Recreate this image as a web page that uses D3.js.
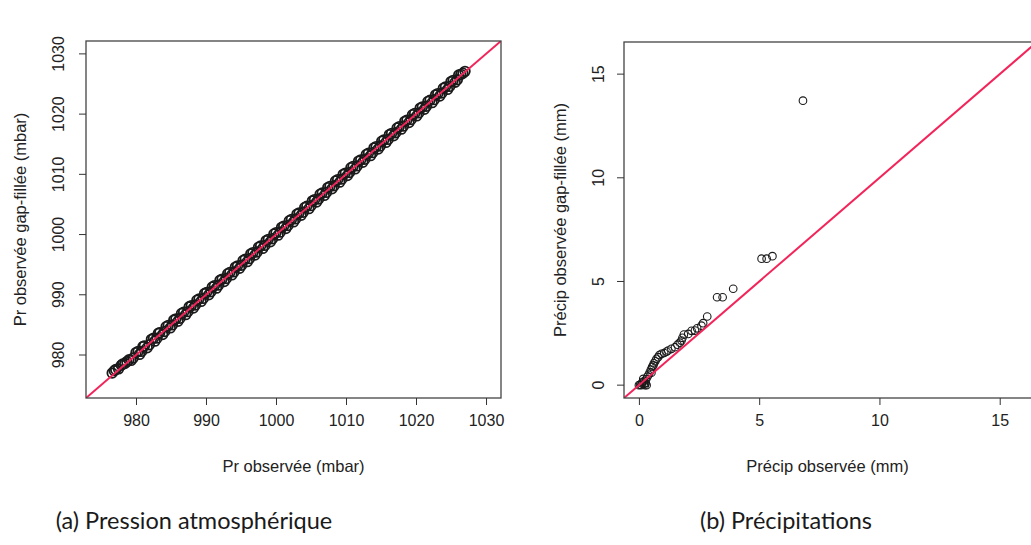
<!DOCTYPE html>
<html>
<head>
<meta charset="utf-8">
<script src="https://cdn.jsdelivr.net/npm/d3@7"></script>
<style>
  html, body { margin: 0; padding: 0; background: #fff; }
  svg text { font-family: "Liberation Sans", Arial, sans-serif; fill: #222; }
  svg text.caption { font-family: Lato, "Open Sans", sans-serif; font-weight: 400; fill: #1a1a1a; }
</style>
</head>
<body>
<svg id="chart" width="1031" height="545"></svg>
<script>
// ---------- DATA ----------
const pressureTicks = [980, 990, 1000, 1010, 1020, 1030];
const pressureObs = [
  976.6, 977.1, 977.9, 978.4, 979.0, 979.6, 980.3, 980.8, 981.2, 981.9, 982.5, 983.0, 983.4, 984.1, 984.6, 985.2, 985.7, 986.3, 986.8, 987.4, 987.9, 988.5, 989.0, 989.6, 990.1, 990.7, 991.2, 991.8, 992.3, 992.9, 993.4, 994.0, 994.5, 995.1, 995.6, 996.2, 996.7, 997.3, 997.8, 998.4, 998.9, 999.5, 1000.0, 1000.6, 1001.1, 1001.7, 1002.2, 1002.8, 1003.3, 1003.9, 1004.4, 1005.0, 1005.5, 1006.1, 1006.6, 1007.2, 1007.7, 1008.3, 1008.8, 1009.4, 1009.9, 1010.5, 1011.0, 1011.6, 1012.1, 1012.7, 1013.2, 1013.8, 1014.3, 1014.9, 1015.4, 1016.0, 1016.5, 1017.1, 1017.6, 1018.2, 1018.7, 1019.3, 1019.8, 1020.4, 1020.9, 1021.5, 1022.0, 1022.6, 1023.1, 1023.7, 1024.2, 1024.8, 1025.3, 1025.9, 1026.4, 1027.0,
  976.9, 977.5, 978.1, 978.7, 979.3, 980.0, 980.5, 981.0, 981.6, 982.2, 982.7, 983.2, 983.8, 984.3, 984.9, 985.4, 986.0, 986.5, 987.1, 987.6, 988.2, 988.7, 989.3, 989.8, 990.4, 990.9, 991.5, 992.0, 992.6, 993.1, 993.7, 994.2, 994.8, 995.3, 995.9, 996.4, 997.0, 997.5, 998.1, 998.6, 999.2, 999.7, 1000.3, 1000.8, 1001.4, 1001.9, 1002.5, 1003.0, 1003.6, 1004.1, 1004.7, 1005.2, 1005.8, 1006.3, 1006.9, 1007.4, 1008.0, 1008.5, 1009.1, 1009.6, 1010.2, 1010.7, 1011.3, 1011.8, 1012.4, 1012.9, 1013.5, 1014.0, 1014.6, 1015.1, 1015.7, 1016.2, 1016.8, 1017.3, 1017.9, 1018.4, 1019.0, 1019.5, 1020.1, 1020.6, 1021.2, 1021.7, 1022.3, 1022.8, 1023.4, 1023.9, 1024.5, 1025.0, 1025.6, 1026.1, 1026.7];
const pressureFill = [
  977.0, 977.6, 978.3, 978.6, 979.2, 979.5, 980.6, 980.6, 981.5, 981.7, 982.8, 982.8, 983.7, 983.9, 984.9, 985.0, 986.0, 986.1, 987.1, 987.2, 988.2, 988.3, 989.3, 989.4, 990.4, 990.5, 991.5, 991.6, 992.6, 992.7, 993.7, 993.8, 994.8, 994.9, 995.9, 996.0, 997.0, 997.1, 998.1, 998.2, 999.2, 999.3, 1000.3, 1000.4, 1001.4, 1001.5, 1002.5, 1002.6, 1003.6, 1003.7, 1004.7, 1004.8, 1005.8, 1005.9, 1006.9, 1007.0, 1008.0, 1008.1, 1009.1, 1009.2, 1010.2, 1010.3, 1011.3, 1011.4, 1012.4, 1012.5, 1013.5, 1013.6, 1014.6, 1014.7, 1015.7, 1015.8, 1016.8, 1016.9, 1017.9, 1018.0, 1019.0, 1019.1, 1020.1, 1020.2, 1021.2, 1021.3, 1022.3, 1022.4, 1023.4, 1023.5, 1024.5, 1024.6, 1025.6, 1025.7, 1026.6, 1027.1,
  977.4, 977.7, 978.5, 978.9, 979.1, 980.4, 980.1, 981.4, 981.2, 982.6, 982.3, 983.6, 983.4, 984.7, 984.5, 985.8, 985.6, 986.9, 986.7, 988.0, 987.8, 989.1, 988.9, 990.2, 990.0, 991.3, 991.1, 992.4, 992.2, 993.5, 993.3, 994.6, 994.4, 995.7, 995.5, 996.8, 996.6, 997.9, 997.7, 999.0, 998.8, 1000.1, 999.9, 1001.2, 1001.0, 1002.3, 1002.1, 1003.4, 1003.2, 1004.5, 1004.3, 1005.6, 1005.4, 1006.7, 1006.5, 1007.8, 1007.6, 1008.9, 1008.7, 1010.0, 1009.8, 1011.1, 1010.9, 1012.2, 1012.0, 1013.3, 1013.1, 1014.4, 1014.2, 1015.5, 1015.3, 1016.6, 1016.4, 1017.7, 1017.5, 1018.8, 1018.6, 1019.9, 1019.7, 1021.0, 1020.8, 1022.1, 1021.9, 1023.2, 1023.0, 1024.3, 1024.1, 1025.4, 1025.3, 1026.5, 1026.8];

const precipTicks = [0, 5, 10, 15];
const precipObs  = [0.00, 0.05, 0.10, 0.12, 0.15, 0.20, 0.22, 0.25, 0.28, 0.30, 0.32, 0.35, 0.18, 0.40, 0.45, 0.50, 0.52, 0.55, 0.60, 0.62, 0.68, 0.73, 0.80, 0.85, 0.94, 1.05, 1.15, 1.22, 1.35, 1.50, 1.60, 1.70, 1.77, 1.81, 1.87, 2.05, 2.19, 2.33, 2.42, 2.60, 2.67, 2.84, 3.25, 3.48, 3.92, 5.10, 5.31, 5.55, 6.82];
const precipFill = [0.00, 0.02, 0.00, 0.08, 0.15, 0.05, 0.20, 0.00, 0.10, 0.28, 0.00, 0.40, 0.30, 0.50, 0.62, 0.75, 0.60, 0.88, 0.95, 1.05, 1.15, 1.27, 1.35, 1.45, 1.51, 1.55, 1.62, 1.67, 1.75, 1.83, 1.95, 2.05, 2.15, 2.28, 2.44, 2.47, 2.62, 2.63, 2.74, 2.87, 2.99, 3.31, 4.24, 4.24, 4.65, 6.10, 6.10, 6.22, 13.72];

const captions = ["(a) Pression atmosphérique", "(b) Précipitations"];

// ---------- DRAW ----------
const svg = d3.select("#chart");

function panel(cfg) {
  const g = svg.append("g");
  const x = d3.scaleLinear().domain(cfg.domain).range([cfg.left, cfg.right]);
  const y = d3.scaleLinear().domain(cfg.domain).range([cfg.bottom, cfg.top]);
  const fmt = d3.format("d");

  const clipId = "clip" + cfg.id;
  svg.append("clipPath").attr("id", clipId).append("rect")
    .attr("x", cfg.left).attr("y", cfg.top)
    .attr("width", cfg.right - cfg.left).attr("height", cfg.bottom - cfg.top);

  // points
  const pts = cfg.obs.map((d, i) => [d, cfg.fill[i]]);
  g.append("g").attr("clip-path", `url(#${clipId})`)
    .selectAll("circle").data(pts).enter().append("circle")
    .attr("cx", d => x(d[0])).attr("cy", d => y(d[1])).attr("r", cfg.r)
    .attr("fill", "none").attr("stroke", "#1a1a1a").attr("stroke-width", cfg.sw);

  // y = x line
  g.append("line").attr("clip-path", `url(#${clipId})`)
    .attr("x1", x(cfg.domain[0])).attr("y1", y(cfg.domain[0]))
    .attr("x2", x(cfg.domain[1])).attr("y2", y(cfg.domain[1]))
    .attr("stroke", "#f2245a").attr("stroke-width", 2);

  // box
  g.append("rect").attr("x", cfg.left).attr("y", cfg.top)
    .attr("width", cfg.right - cfg.left).attr("height", cfg.bottom - cfg.top)
    .attr("fill", "none").attr("stroke", "#444").attr("stroke-width", 1.3);

  // x axis
  const xa = g.append("g").attr("transform", `translate(0,${cfg.bottom})`)
    .call(d3.axisBottom(x).tickValues(cfg.ticks).tickFormat(fmt).tickSize(7).tickPadding(10).tickSizeOuter(0));
  xa.select(".domain").remove();
  xa.selectAll("line").attr("stroke", "#333");
  xa.selectAll("text").style("font-size", "16px").attr("fill", "#222");

  // y axis
  const ya = g.append("g").attr("transform", `translate(${cfg.left},0)`)
    .call(d3.axisLeft(y).tickValues(cfg.ticks).tickFormat(fmt).tickSize(7).tickSizeOuter(0));
  ya.select(".domain").remove();
  ya.selectAll(".tick").attr("transform", null);
  ya.selectAll(".tick line").attr("stroke", "#333")
    .attr("y1", d => y(d)).attr("y2", d => y(d));
  ya.selectAll(".tick text")
    .style("font-size", "16px").attr("fill", "#222")
    .attr("x", null).attr("y", 0).attr("dy", "0.35em")
    .attr("text-anchor", "middle")
    .attr("transform", d => `translate(${cfg.yLabelX - cfg.left},${y(d)}) rotate(-90)`);

  // titles
  g.append("text").attr("x", (cfg.left + cfg.xTitleRight) / 2).attr("y", cfg.bottom + 74)
    .attr("text-anchor", "middle").style("font-size", "16.5px").text(cfg.xTitle);
  g.append("text")
    .attr("transform", `translate(${cfg.yTitleX},${(cfg.top + cfg.bottom) / 2}) rotate(-90)`)
    .attr("text-anchor", "middle").attr("dy", "0.35em").style("font-size", "16.5px").text(cfg.yTitle);

  // caption
  g.append("text").attr("class", "caption").attr("x", cfg.capX).attr("y", 529)
    .attr("text-anchor", "middle").style("font-size", "23.5px").text(cfg.caption);
}

panel({
  id: "a", domain: [972.86, 1032.14], ticks: pressureTicks,
  obs: pressureObs, fill: pressureFill, r: 4.8, sw: 1.8,
  left: 86, right: 501, top: 41, bottom: 398,
  yLabelX: 58, yTitleX: 20, xTitleRight: 501,
  xTitle: "Pr observée (mbar)", yTitle: "Pr observée gap-fillée (mbar)",
  caption: captions[0], capX: 194
});

panel({
  id: "b", domain: [-0.62, 16.55], ticks: precipTicks,
  obs: precipObs, fill: precipFill, r: 3.8, sw: 1.1,
  left: 624, right: 1037, top: 42, bottom: 398,
  yLabelX: 598, yTitleX: 560, xTitleRight: 1031,
  xTitle: "Précip observée (mm)", yTitle: "Précip observée gap-fillée (mm)",
  caption: captions[1], capX: 786
});
</script>
</body>
</html>
